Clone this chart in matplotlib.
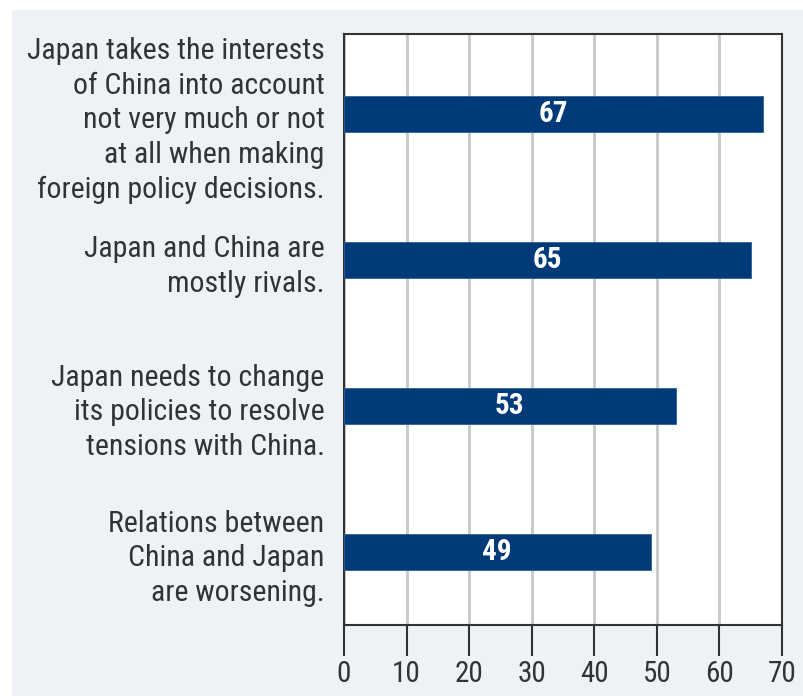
import matplotlib.pyplot as plt

# survey statements and share of respondents agreeing (%)
statements = [
    "Japan takes the interests\nof China into account\nnot very much or not\nat all when making\nforeign policy decisions.",
    "Japan and China are\nmostly rivals.",
    "Japan needs to change\nits policies to resolve\ntensions with China.",
    "Relations between\nChina and Japan\nare worsening.",
]
values = [67, 65, 53, 49]
xticks = [0, 10, 20, 30, 40, 50, 60, 70]

plt.rcParams["font.family"] = ["Roboto Condensed", "DejaVu Sans"]

bg = "#eef2f6"
bar_color = "#003a78"
text_color = "#333333"

fig = plt.figure(figsize=(8.04, 6.96), dpi=100, facecolor="white")
# light panel behind the whole chart
fig.patches.append(plt.Rectangle((12 / 804, 0), 1, 1 - 10 / 696,
                                 transform=fig.transFigure, facecolor=bg,
                                 edgecolor="none", zorder=-1))

ax = fig.add_axes([344 / 804, 1 - 625 / 696, (782 - 344) / 804, (625 - 34) / 696])
ax.set_facecolor("white")

pos = list(range(len(values)))
ax.barh(pos, values, height=0.25, color=bar_color, edgecolor="#2f5f95",
        linewidth=0.6, zorder=3)
for y, v in zip(pos, values):
    ax.text(v / 2, y, str(v), ha="center", va="center", color="white",
            fontsize=21, fontweight="bold", zorder=4)

ax.set_xlim(0, 70)
ax.set_ylim(3.5, -0.55)
ax.set_xticks(xticks)
ax.set_xticklabels([str(t) for t in xticks], fontsize=21, color=text_color)
ax.set_yticks(pos)
ax.set_yticklabels(statements, fontsize=21.5, color=text_color, ha="right",
                   linespacing=1.3)
ax.tick_params(axis="y", length=0, pad=14)
ax.tick_params(axis="x", length=22, width=1.5, color=text_color, pad=3)
ax.grid(axis="x", color="#c8c8c8", linewidth=2, zorder=0)

for side in ["left", "right", "top", "bottom"]:
    ax.spines[side].set_color(text_color)
    ax.spines[side].set_linewidth(1.5)

fig.savefig("out.png", dpi=100, facecolor="white")
